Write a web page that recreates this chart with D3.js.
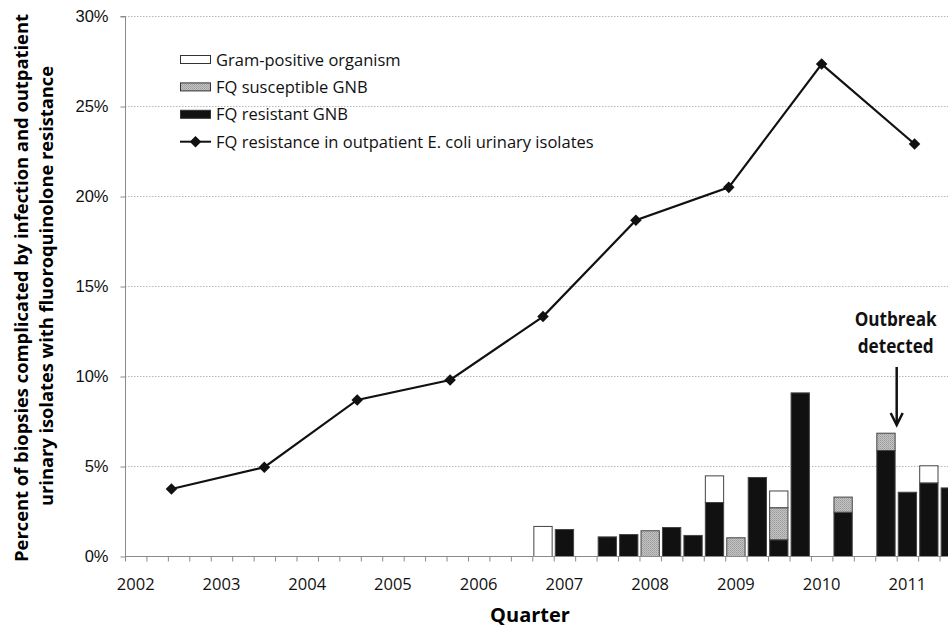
<!DOCTYPE html>
<html>
<head>
<meta charset="utf-8">
<script src="https://cdn.jsdelivr.net/npm/d3@7"></script>
<style>
  body { margin: 0; background: #fff; }
  svg { display: block; font-family: "Open Sans", sans-serif; }
  .axis path, .axis line { stroke: #8a8a8a; }
  .axis text { font-size: 16.5px; fill: #111; }
  .grid line { stroke: #b8b8b8; stroke-dasharray: 1.5, 1.5; }
  .legend text { font-size: 16.5px; fill: #111; }
</style>
</head>
<body>
<div id="chart"></div>
<script>
// quarters 2002 Q1 .. 2011 Q3
var quarters = [
  "2002Q1","2002Q2","2002Q3","2002Q4","2003Q1","2003Q2","2003Q3","2003Q4",
  "2004Q1","2004Q2","2004Q3","2004Q4","2005Q1","2005Q2","2005Q3","2005Q4",
  "2006Q1","2006Q2","2006Q3","2006Q4","2007Q1","2007Q2","2007Q3","2007Q4",
  "2008Q1","2008Q2","2008Q3","2008Q4","2009Q1","2009Q2","2009Q3","2009Q4",
  "2010Q1","2010Q2","2010Q3","2010Q4","2011Q1","2011Q2","2011Q3"
];
var yearLabels = ["2002","2003","2004","2005","2006","2007","2008","2009","2010","2011"];

// stacked bars (% of biopsies), one value per quarter
var fqResistant = [
  0,0,0,0, 0,0,0,0, 0,0,0,0, 0,0,0,0,
  0,0,0,0, 1.50,0,1.09,1.22, 0,1.61,1.17,3.00, 0,4.39,0.93,9.09,
  0,2.46,0,5.89, 3.57,4.09,3.81
];
var fqSusceptible = [
  0,0,0,0, 0,0,0,0, 0,0,0,0, 0,0,0,0,
  0,0,0,0, 0,0,0,0, 1.43,0,0,0, 1.04,0,1.78,0,
  0,0.84,0,0.96, 0,0,0
];
var gramPositive = [
  0,0,0,0, 0,0,0,0, 0,0,0,0, 0,0,0,0,
  0,0,0,1.67, 0,0,0,0, 0,0,0,1.48, 0,0,0.93,0,
  0,0,0,0, 0,0.95,0
];

// outpatient E. coli FQ resistance, yearly
var lineYears = ["2002","2003","2004","2005","2006","2007","2008","2009","2010"];
var lineValues = [3.72, 4.93, 8.67, 9.78, 13.30, 18.65, 20.48, 27.33, 22.89];

var yTicks = [0, 5, 10, 15, 20, 25, 30];

var seriesKeys = ["resistant", "susceptible", "grampos"];
var seriesNames = {
  grampos: "Gram-positive organism",
  susceptible: "FQ susceptible GNB",
  resistant: "FQ resistant GNB"
};

function init() {
  var w = 948, h = 631;
  var left = 125, right = 961, top = 16, bottom = 556;

  var rows = quarters.map(function(q, i) {
    return { q: q, resistant: fqResistant[i], susceptible: fqSusceptible[i], grampos: gramPositive[i] };
  });

  var xScale = d3.scaleBand().domain(quarters).range([left, right]).paddingInner(0.1).paddingOuter(0.05);
  var step = xScale.step();
  var x2 = d3.scaleBand().domain(lineYears).range([left, right]);
  var yScale = d3.scaleLinear().domain([0, 30]).range([bottom, top]);

  var svg = d3.select("#chart").append("svg")
    .attr("width", w).attr("height", h);

  var defs = svg.append("defs");
  var pat = defs.append("pattern").attr("id", "stip")
    .attr("width", 2).attr("height", 2).attr("patternUnits", "userSpaceOnUse");
  pat.append("rect").attr("width", 2).attr("height", 2).attr("fill", "#c4c4c4");
  pat.append("rect").attr("width", 1).attr("height", 1).attr("fill", "#9a9a9a");
  pat.append("rect").attr("x", 1).attr("y", 1).attr("width", 1).attr("height", 1).attr("fill", "#a8a8a8");

  var fills = { resistant: "#111", susceptible: "url(#stip)", grampos: "#fff" };

  // gridlines
  svg.append("g").attr("class", "grid")
    .selectAll("line").data(yTicks.filter(function(d) { return d > 0; }))
    .enter().append("line")
    .attr("x1", left).attr("x2", right)
    .attr("y1", function(d) { return yScale(d) + 0.5; })
    .attr("y2", function(d) { return yScale(d) + 0.5; });

  // bars
  var stack = d3.stack().keys(seriesKeys);
  var layers = stack(rows);
  svg.append("g").selectAll("g").data(layers).enter().append("g")
    .attr("fill", function(d) { return fills[d.key]; })
    .selectAll("rect").data(function(d) { return d.filter(function(s) { return s[1] - s[0] > 0; }); })
    .enter().append("rect")
    .attr("x", function(d) { return xScale(d.data.q) + 0.5; })
    .attr("width", xScale.bandwidth() - 1)
    .attr("y", function(d) { return yScale(d[1]) + 0.5; })
    .attr("height", function(d) { return yScale(d[0]) - yScale(d[1]); })
    .attr("stroke", "#444").attr("stroke-width", 1);

  // y axis
  var yAxis = d3.axisLeft(yScale).tickValues(yTicks)
    .tickFormat(function(d) { return d + "%"; }).tickSize(5).tickPadding(12);
  svg.append("g").attr("class", "axis")
    .attr("transform", "translate(" + (left + 0.5) + ",0.5)")
    .call(yAxis)
    .call(function(g) { g.select(".domain").attr("d", "M-5," + top + "H0V" + bottom); });

  // x axis: line, quarter boundary ticks, yearly labels
  var xg = svg.append("g").attr("class", "axis").attr("transform", "translate(0," + (bottom + 0.5) + ")");
  xg.append("line").attr("x1", left).attr("x2", right).attr("y1", 0).attr("y2", 0);
  xg.selectAll(".qtick").data(quarters).enter().append("line")
    .attr("class", "qtick")
    .attr("x1", function(d) { return xScale(d) - step * 0.05 + 0.5; })
    .attr("x2", function(d) { return xScale(d) - step * 0.05 + 0.5; })
    .attr("y1", 0).attr("y2", 5);
  xg.selectAll("text").data(yearLabels).enter().append("text")
    .attr("x", function(d) { return xScale(d + "Q1") + xScale.bandwidth() / 2; })
    .attr("y", 33)
    .attr("text-anchor", "middle")
    .text(function(d) { return d; });

  // line series
  var line = d3.line()
    .x(function(d, i) { return x2(lineYears[i]) + x2.bandwidth() / 2; })
    .y(function(d) { return yScale(d); });
  svg.append("path").datum(lineValues)
    .attr("d", line).attr("fill", "none").attr("stroke", "#111").attr("stroke-width", 2.2);
  var diamond = d3.symbol().type(d3.symbolDiamond2).size(85);
  svg.selectAll(".pt").data(lineValues).enter().append("path")
    .attr("class", "pt")
    .attr("transform", function(d, i) { return "translate(" + (x2(lineYears[i]) + x2.bandwidth() / 2) + "," + yScale(d) + ")"; })
    .attr("d", diamond).attr("fill", "#111");

  // legend
  var lg = svg.append("g").attr("class", "legend");
  var legendItems = ["grampos", "susceptible", "resistant", "line"];
  legendItems.forEach(function(k, i) {
    var cy = 59.5 + i * 27.4;
    if (k === "line") {
      lg.append("line").attr("x1", 180).attr("x2", 211).attr("y1", cy).attr("y2", cy)
        .attr("stroke", "#111").attr("stroke-width", 2);
      lg.append("path").attr("transform", "translate(195.5," + cy + ")")
        .attr("d", diamond).attr("fill", "#111");
      lg.append("text").attr("x", 216).attr("y", cy + 6)
        .text("FQ resistance in outpatient E. coli urinary isolates");
    } else {
      lg.append("rect").attr("x", 180.5).attr("y", cy - 4).attr("width", 30).attr("height", 8)
        .attr("fill", fills[k]).attr("stroke", "#333");
      lg.append("text").attr("x", 216).attr("y", cy + 6).text(seriesNames[k]);
    }
  });

  // annotation
  var ax = xScale("2011Q1") - step * 0.05;
  var ann = svg.append("g").attr("font-weight", "bold").attr("font-size", "19px").attr("fill", "#111")
    .attr("text-anchor", "middle");
  ann.append("text").attr("x", ax - 1).attr("y", 326).attr("textLength", 82)
    .attr("lengthAdjust", "spacingAndGlyphs").text("Outbreak");
  ann.append("text").attr("x", ax - 1).attr("y", 353).attr("textLength", 76)
    .attr("lengthAdjust", "spacingAndGlyphs").text("detected");
  svg.append("line").attr("x1", ax).attr("x2", ax).attr("y1", 367).attr("y2", 424)
    .attr("stroke", "#111").attr("stroke-width", 2.5);
  svg.append("path").attr("d", "M" + (ax - 6) + ",413L" + ax + ",425L" + (ax + 6) + ",413")
    .attr("fill", "none").attr("stroke", "#111").attr("stroke-width", 2.5);

  // axis titles
  svg.append("text").attr("x", 530).attr("y", 622)
    .attr("text-anchor", "middle").attr("font-weight", "bold").attr("font-size", "20px")
    .text("Quarter");
  var yt = svg.append("g").attr("transform", "translate(0,288) rotate(-90)")
    .attr("text-anchor", "middle").attr("font-weight", "bold").attr("font-size", "18px");
  yt.append("text").attr("x", 0).attr("y", 28).attr("textLength", 548)
    .attr("lengthAdjust", "spacingAndGlyphs")
    .text("Percent of biopsies complicated by infection and outpatient");
  yt.append("text").attr("x", 2).attr("y", 53).attr("textLength", 440)
    .attr("lengthAdjust", "spacingAndGlyphs")
    .text("urinary isolates with fluoroquinolone resistance");
}
window.onload = init;
</script>
</body>
</html>
